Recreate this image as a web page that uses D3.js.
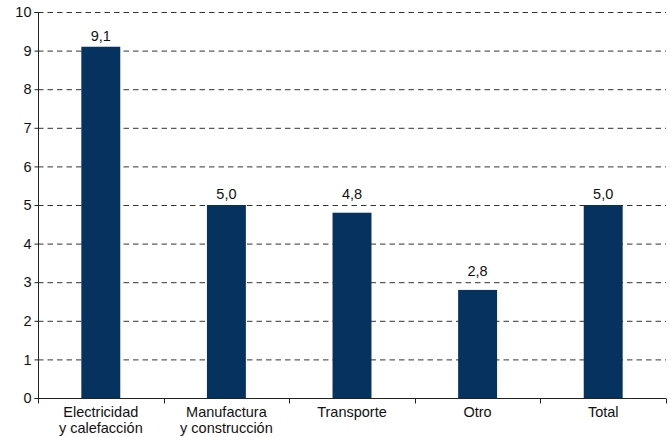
<!DOCTYPE html>
<html><head><meta charset="utf-8">
<script src="https://cdn.jsdelivr.net/npm/d3@7"></script>
<style>body{margin:0;background:#fff}svg{display:block}text{font-family:"Liberation Sans",Arial,sans-serif}</style>
</head><body><svg id="c" width="670" height="437"></svg>
<script>
const categories = [["Electricidad","y calefacción"],["Manufactura","y construcción"],["Transporte"],["Otro"],["Total"]];
const values = [9.1, 5.0, 4.8, 2.8, 5.0];
const yTicks = [0,1,2,3,4,5,6,7,8,9,10];

const svg = d3.select("#c");
const m = {l:38, r:4, t:12, b:39};
const W = 670, H = 437;
const x = d3.scaleBand().domain(d3.range(categories.length)).range([m.l, W - m.r]).padding(0);
const y = d3.scaleLinear().domain([0,10]).range([H - m.b, m.t]);
const fmt = v => d3.format(".1f")(v).replace(".", ",");

// gridlines
svg.append("g").selectAll("line").data(yTicks.filter(d=>d>0)).join("line")
  .attr("x1", m.l).attr("x2", W - m.r)
  .attr("y1", d=>y(d)+0.5).attr("y2", d=>y(d)+0.5)
  .attr("stroke","#333").attr("stroke-width",1).attr("stroke-dasharray","5.5,4");

// bars
const bw = x.bandwidth()*0.31;
svg.append("g").selectAll("rect").data(values).join("rect")
  .attr("x",(d,i)=>x(i)+x.bandwidth()/2-bw/2)
  .attr("width",bw)
  .attr("y",d=>y(d)).attr("height",d=>y(0)-y(d))
  .attr("fill","#06325f");

// value labels (lifted above a gridline if one crosses just above the bar)
function labelY(v){
  let base = y(v) - 6;
  yTicks.forEach(g => { const gy = y(g); if (gy < y(v) - 1 && gy > y(v) - 18) base = gy - 6; });
  return base;
}
svg.append("g").selectAll("text").data(values).join("text")
  .attr("x",(d,i)=>x(i)+x.bandwidth()/2)
  .attr("y",labelY)
  .attr("text-anchor","middle").attr("font-size",14.5).attr("fill","#111")
  .text(fmt);

// y axis
const ya = svg.append("g").attr("transform",`translate(${m.l+0.5},0)`)
  .call(d3.axisLeft(y).tickValues(yTicks).tickSize(4).tickPadding(3).tickFormat(d3.format("d")));
ya.select(".domain").attr("stroke","#222").attr("d",`M-4,${y(10)+0.5}H0V${y(0)+0.5}H-4`);
ya.selectAll(".tick line").attr("stroke","#222");
ya.selectAll(".tick text").attr("font-size",14.5).attr("fill","#111").attr("font-family","Liberation Sans, Arial, sans-serif");

// x axis
const xa = svg.append("g").attr("transform",`translate(0,${y(0)+0.5})`);
xa.append("line").attr("x1",m.l).attr("x2",W-m.r).attr("stroke","#222");
const bounds = d3.range(categories.length+1).map(i => i<categories.length ? x(i) : x(categories.length-1)+x.bandwidth());
xa.selectAll("line.t").data(bounds).join("line").attr("class","t")
  .attr("x1",d=>Math.round(d)+0.5).attr("x2",d=>Math.round(d)+0.5).attr("y1",0).attr("y2",5).attr("stroke","#222");
const lbl = xa.selectAll("text").data(categories).join("text")
  .attr("text-anchor","middle").attr("font-size",14.5).attr("fill","#111")
  .attr("x",(d,i)=>x(i)+x.bandwidth()/2);
lbl.selectAll("tspan").data(d=>d).join("tspan")
  .attr("x",function(){return this.parentNode.getAttribute("x");})
  .attr("y",(d,i)=>18+i*16).text(d=>d);
</script></body></html>
